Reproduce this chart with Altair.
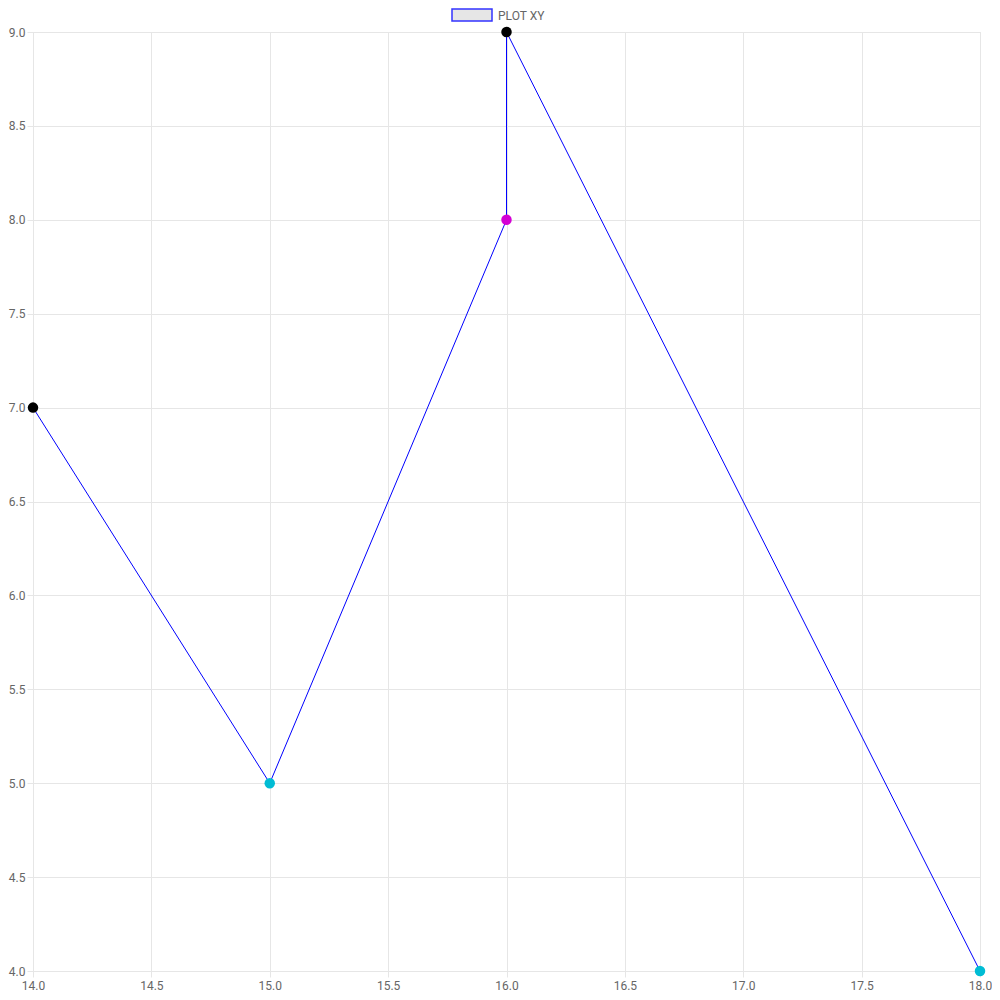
import altair as alt
import pandas as pd

xs = [14, 15, 16, 16, 18]
ys = [7, 5, 8, 9, 4]
point_colors = ["#000000", "#00BCD4", "#D400D4", "#000000", "#00BCD4"]
x_ticks = [14.0, 14.5, 15.0, 15.5, 16.0, 16.5, 17.0, 17.5, 18.0]
y_ticks = [4.0, 4.5, 5.0, 5.5, 6.0, 6.5, 7.0, 7.5, 8.0, 8.5, 9.0]
series_name = "PLOT XY"

df = pd.DataFrame({"x": xs, "y": ys, "c": point_colors, "i": list(range(len(xs)))})

grid = "#e6e6e6"
lab = "#666666"
font = "Roboto"

xenc = alt.X("x:Q", scale=alt.Scale(domain=[14, 18], nice=False, zero=False),
             axis=alt.Axis(values=x_ticks, format=".1f", title=None, grid=True,
                           gridColor=grid, tickColor=grid, domainColor=grid,
                           tickSize=6, labelPadding=3, labelColor=lab,
                           labelFont=font, labelFontSize=12, labelFlush=False))
yenc = alt.Y("y:Q", scale=alt.Scale(domain=[4, 9], nice=False, zero=False),
             axis=alt.Axis(values=y_ticks, format=".1f", title=None, grid=True,
                           gridColor=grid, tickColor=grid, domainColor=grid,
                           tickSize=6, labelPadding=2, labelColor=lab,
                           labelFont=font, labelFontSize=12, labelFlush=False))

line = alt.Chart(df).mark_line(color="#0000FF", strokeWidth=1).encode(
    x=xenc, y=yenc, order="i:Q")
pts = alt.Chart(df).mark_circle(size=110, opacity=1).encode(
    x="x:Q", y="y:Q", color=alt.Color("c:N", scale=None))

leg_box = alt.Chart(pd.DataFrame({"n": [series_name]})).mark_rect(
    fill="#e6e6e6", stroke="#3333ff", strokeWidth=1.5).encode(
    x=alt.value(419), x2=alt.value(459), y=alt.value(-23), y2=alt.value(-11))
leg_text = alt.Chart(pd.DataFrame({"n": [series_name]})).mark_text(
    align="left", baseline="middle", font=font, fontSize=12, color=lab).encode(
    x=alt.value(465), y=alt.value(-16), text="n:N")

chart = alt.layer(line, pts, leg_box, leg_text).properties(
    width=947, height=939,
    padding={"left": 25, "top": 24, "right": 12, "bottom": 21},
    autosize=alt.AutoSizeParams(type="none"),
).configure_view(stroke=None).configure(background="white")

chart.save("out.html", embed_options={"renderer": "svg", "actions": False})
